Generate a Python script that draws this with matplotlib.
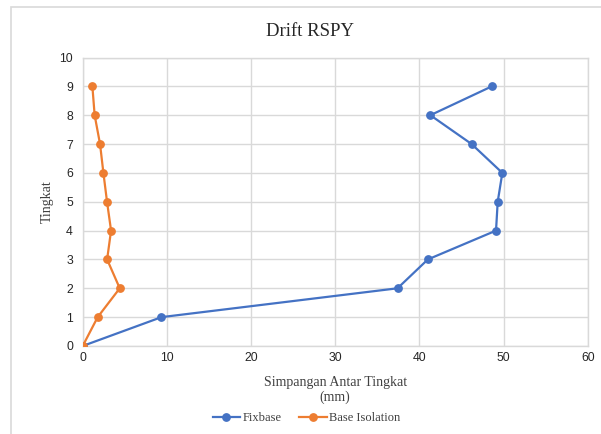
import matplotlib
matplotlib.use("Agg")
import matplotlib.pyplot as plt
from matplotlib.patches import Rectangle

# Storey levels and inter-storey drift (mm)
tingkat = [0, 1, 2, 3, 4, 5, 6, 7, 8, 9]
fixbase = [0, 9.36, 37.4, 41.0, 49.1, 49.3, 49.85, 46.2, 41.3, 48.6]
base_isolation = [0, 1.78, 4.4, 2.9, 3.37, 2.89, 2.46, 2.06, 1.42, 1.15]

x_ticks = [0, 10, 20, 30, 40, 50, 60]
y_ticks = [0, 1, 2, 3, 4, 5, 6, 7, 8, 9, 10]

BLUE = "#4472C4"
ORANGE = "#ED7D31"
GRID = "#D9D9D9"
TEXT = "#404040"
SERIF = "Liberation Serif"
SANS = "Liberation Sans"

fig = plt.figure(figsize=(6.01, 4.34), dpi=100)
fig.patch.set_facecolor("white")

# chart frame
fig.patches.append(Rectangle((11 / 601, -0.05), 1.1, 1 - 7 / 434 + 0.05,
                             transform=fig.transFigure, fill=False,
                             edgecolor=GRID, linewidth=1.2))

ax = fig.add_axes([0.1376, 0.2028, 0.978 - 0.1376, 0.8675 - 0.2028])

ax.plot(fixbase, tingkat, color=BLUE, linewidth=1.6, marker="o",
        markersize=5.3, label="Fixbase", zorder=3)
ax.plot(base_isolation, tingkat, color=ORANGE, linewidth=1.6, marker="o",
        markersize=5.3, label="Base Isolation", zorder=3)

ax.set_xlim(0, 60)
ax.set_ylim(0, 10)
ax.set_xticks(x_ticks)
ax.set_yticks(y_ticks)
ax.grid(True, color=GRID, linewidth=1.0)
ax.set_axisbelow(True)
for s in ax.spines.values():
    s.set_color(GRID)
    s.set_linewidth(1.0)
ax.tick_params(length=0, labelsize=8.8, labelcolor="#262626")
ax.tick_params(axis="y", pad=7)
ax.tick_params(axis="x", pad=4)
for lab in ax.get_xticklabels() + ax.get_yticklabels():
    lab.set_fontfamily(SANS)

ax.set_xlabel("Simpangan Antar Tingkat\n(mm)", fontfamily=SERIF,
              fontsize=10, color=TEXT, labelpad=9, linespacing=1.1)
ax.set_ylabel("Tingkat", fontfamily=SERIF, fontsize=10, color=TEXT,
              labelpad=4)

fig.text(0.516, 1 - 31 / 434, "Drift RSPY", ha="center", va="center",
         fontfamily=SERIF, fontsize=13.5, color="#262626")

leg = fig.legend(loc="center", bbox_to_anchor=(0.51, 1 - 418 / 434),
                 ncol=2, frameon=False, prop={"family": SERIF, "size": 9},
                 handlelength=2.2, handletextpad=0.2, columnspacing=1.4)
for t in leg.get_texts():
    t.set_color(TEXT)

fig.savefig("out.png", dpi=100)
